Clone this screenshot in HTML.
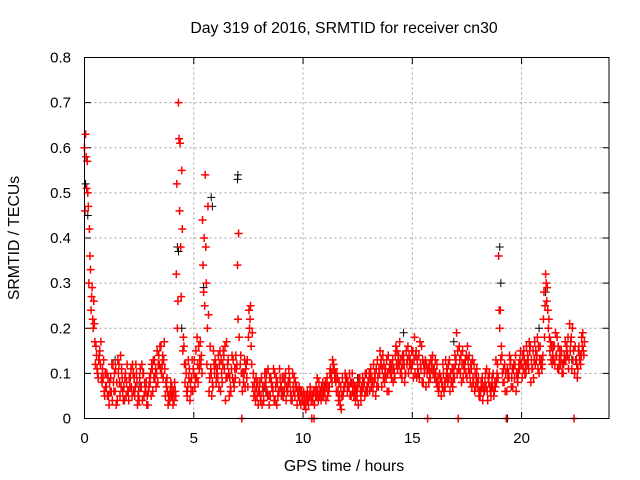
<!DOCTYPE html>
<html><head><meta charset="utf-8"><style>
html,body{margin:0;padding:0;background:#fff;}
svg{display:block;font-family:"Liberation Sans",sans-serif;}
</style></head><body>
<svg id="chart" width="640" height="480">
<rect width="640" height="480" fill="#fff"/>
<text x="344" y="33" font-size="15.8" text-anchor="middle">Day 319 of 2016, SRMTID for receiver cn30</text>
<text x="344" y="471" font-size="15.8" text-anchor="middle">GPS time / hours</text>
<text transform="translate(19,238) rotate(-90)" font-size="15.8" text-anchor="middle">SRMTID / TECUs</text>
<g id="grid"></g>
<g id="ticks"></g>
<g id="black"></g>
<g id="red"></g>
<rect x="84.5" y="57.5" width="524.5" height="361" fill="none" stroke="#000" stroke-width="1"/>
</svg>
<script>
const xTicks=[0,5,10,15,20];
const yTicks=[0,0.1,0.2,0.3,0.4,0.5,0.6,0.7,0.8];
const yTickLabels=["0","0.1","0.2","0.3","0.4","0.5","0.6","0.7","0.8"];
const binStep=0.1;
const redA=[.60,.51,.30,.24,.20,.12,.10,.15,.08,.06,
.07,.05,.09,.12,.06,.04,.08,.11,.07,.05,
.06,.09,.12,.05,.08,.04,.07,.10,.06,.03,
.08,.11,.13,.10,.14,.16,.09,.05,.06,.04,
.07,.04,.32,.70,.38,.15,.08,.05,.11,.09,
.10,.15,.08,.17,.44,.25,.12,.06,.10,.15,
.12,.09,.15,.08,.11,.17,.10,.06,.13,.09,
.34,.08,.00,.10,.12,.18,.25,.07,.06,.05,
.06,.09,.04,.08,.11,.05,.07,.10,.03,.06,
.07,.05,.10,.06,.08,.04,.09,.07,.05,.03,
.04,.03,.06,.05,.00,.00,.07,.04,.06,.08,
.06,.09,.07,.10,.12,.08,.06,.03,.09,.07,
.09,.07,.05,.08,.04,.07,.09,.06,.08,.10,
.08,.11,.06,.09,.13,.10,.07,.12,.09,.14,
.10,.13,.09,.15,.12,.11,.14,.10,.16,.13,
.12,.18,.09,.14,.11,.08,.13,.00,.10,.12,
.11,.08,.06,.09,.12,.07,.10,.13,.08,.11,
.13,.00,.10,.15,.12,.09,.14,.11,.08,.07,
.07,.05,.09,.06,.11,.08,.05,.10,.07,.12,
.20,.14,.08,.00,.10,.13,.07,.12,.09,.11,
.12,.15,.10,.13,.16,.11,.17,.14,.10,.13,
.22,.32,.24,.15,.12,.16,.14,.11,.13,.10,
.17,.14,.21,.11,.00,.13,.15,.12,.19];
const redB=[.46,.57,.42,.27,.26,.16,.09,.12,.11,.05,
.10,.03,.06,.08,.11,.13,.05,.09,.04,.08,
.04,.11,.10,.07,.03,.09,.12,.05,.08,.06,
.10,.06,.09,.15,.12,.10,.13,.08,.03,.06,
.05,.08,.52,.62,.27,.18,.12,.07,.04,.13,
.13,.09,.16,.12,.34,.54,.20,.09,.05,.12,
.08,.14,.06,.12,.16,.09,.05,.11,.08,.14,
.22,.12,.06,.13,.09,.24,.16,.10,.04,.08,
.08,.03,.07,.10,.05,.09,.06,.04,.08,.11,
.05,.09,.04,.08,.06,.10,.05,.03,.07,.06,
.06,.02,.04,.07,.05,.03,.05,.08,.04,.06,
.08,.05,.10,.08,.11,.06,.04,.07,.05,.10,
.06,.10,.08,.05,.07,.03,.06,.09,.05,.07,
.10,.07,.12,.05,.09,.15,.11,.08,.13,.06,
.12,.08,.14,.11,.17,.09,.12,.15,.10,.12,
.15,.10,.13,.09,.16,.12,.07,.11,.09,.14,
.09,.12,.07,.05,.10,.13,.08,.06,.11,.09,
.19,.11,.14,.09,.13,.16,.10,.07,.12,.09,
.09,.06,.04,.08,.06,.10,.07,.05,.13,.09,
.24,.10,.12,.06,.09,.07,.11,.14,.08,.13,
.09,.13,.16,.11,.08,.15,.12,.18,.13,.11,
.28,.30,.20,.17,.14,.12,.18,.13,.15,.12,
.13,.18,.15,.20,.10,.12,.16,.14,.15];
const redC=[.63,.50,.36,.29,.21,.14,.13,.17,.09,.10,
.05,.08,.12,.06,.03,.10,.14,.06,.09,.12,
.09,.07,.06,.12,.05,.11,.04,.08,.03,.07,
.05,.13,.11,.08,.16,.12,.17,.07,.05,.08,
.03,.06,.20,.46,.55,.16,.10,.13,.08,.06,
.07,.18,.11,.14,.28,.38,.47,.16,.08,.10,
.10,.07,.13,.15,.04,.12,.09,.14,.07,.11,
.41,.14,.10,.07,.13,.20,.12,.05,.09,.03,
.04,.07,.10,.06,.03,.08,.11,.07,.05,.09,
.09,.06,.07,.11,.04,.07,.08,.06,.04,.05,
.03,.05,.03,.06,.04,.06,.09,.05,.07,.05,
.04,.07,.11,.13,.09,.10,.08,.02,.06,.08,
.08,.05,.10,.07,.06,.09,.04,.08,.10,.06,
.06,.09,.08,.11,.07,.12,.14,.10,.06,.11,
.09,.11,.16,.13,.10,.14,.08,.12,.14,.11,
.09,.14,.11,.17,.08,.10,.12,.08,.13,.10,
.13,.07,.10,.08,.06,.09,.12,.10,.07,.14,
.10,.16,.08,.12,.10,.13,.08,.13,.06,.11,
.05,.08,.07,.10,.04,.07,.09,.06,.08,.36,
.13,.08,.06,.11,.14,.09,.12,.06,.10,.15,
.14,.10,.12,.17,.13,.09,.15,.11,.16,.12,
.18,.26,.22,.13,.16,.19,.11,.15,.10,.14,
.15,.11,.17,.13,.16,.09,.13,.18,.14];
const redD=[.58,.47,.33,.22,.17,.11,.14,.09,.13,.07,
.09,.06,.04,.10,.08,.12,.07,.04,.10,.06,
.07,.05,.09,.10,.06,.07,.10,.06,.05,.09,
.12,.09,.07,.12,.11,.14,.11,.09,.04,.05,
.06,.05,.26,.61,.42,.12,.06,.09,.06,.11,
.09,.12,.13,.10,.40,.30,.23,.11,.07,.13,
.11,.12,.10,.14,.09,.13,.07,.09,.11,.12,
.18,.10,.08,.11,.07,.22,.19,.08,.07,.06,
.05,.06,.08,.05,.09,.07,.04,.09,.06,.07,
.06,.08,.06,.09,.05,.06,.07,.05,.06,.04,
.05,.04,.05,.04,.06,.05,.06,.06,.05,.07,
.07,.06,.09,.11,.10,.09,.05,.05,.07,.09,
.07,.08,.06,.06,.05,.08,.07,.07,.06,.08,
.09,.08,.10,.07,.11,.13,.09,.11,.10,.12,
.11,.10,.12,.14,.13,.12,.10,.13,.12,.15,
.13,.15,.10,.12,.13,.11,.10,.12,.11,.11,
.10,.09,.09,.07,.08,.11,.09,.08,.09,.12,
.15,.13,.12,.11,.14,.11,.12,.09,.10,.08,
.06,.07,.06,.07,.09,.06,.07,.08,.10,.24,
.16,.11,.10,.09,.12,.11,.09,.10,.12,.12,
.11,.12,.14,.15,.11,.13,.13,.16,.12,.14,
.25,.29,.18,.16,.13,.14,.16,.12,.12,.13,
.16,.13,.18,.15,.13,.11,.14,.16,.17];
const blackT=[0.05,0.15,4.25,4.3,4.45,5.45,5.8,5.85,7.0,7.02,7.05,2.5,9.0,12.5,14.6,16.9,19.0,19.05,19.35,20.8,21.1,22.3,1.4,8.3];
const blackV=[0.52,0.45,0.38,0.37,0.20,0.29,0.49,0.47,0.53,0.54,0.41,0.07,0.05,0.09,0.19,0.17,0.38,0.30,0.00,0.20,0.28,0.13,0.13,0.06];
const X=t=>84.5+t*(524.5/24);
const Y=v=>418.5-v*(361/0.8);
const NS="http://www.w3.org/2000/svg";
function mk(tag,attrs,parent){const e=document.createElementNS(NS,tag);for(const k in attrs)e.setAttribute(k,attrs[k]);parent.appendChild(e);return e;}
const grid=document.getElementById('grid'),ticks=document.getElementById('ticks');
xTicks.forEach(t=>{
  const x=X(t);
  if(t>0){const g=mk('line',{x1:x,x2:x,y1:57.5,y2:418.5,stroke:'#a0a0a0','stroke-dasharray':'2,3'},grid);
  
  }
  mk('line',{x1:x,x2:x,y1:418.5,y2:412,stroke:'#000'},ticks);
  mk('line',{x1:x,x2:x,y1:57.5,y2:64,stroke:'#000'},ticks);
  const l=mk('text',{x:x,y:443,'font-size':15,'text-anchor':'middle'},ticks);l.textContent=t;
  
  
});
yTicks.forEach((v,i)=>{
  const y=Y(v);
  if(i>0&&i<yTicks.length-1){const g=mk('line',{x1:84.5,x2:609,y1:y,y2:y,stroke:'#a0a0a0','stroke-dasharray':'2,3'},grid);
  
  }
  mk('line',{x1:84.5,x2:91,y1:y,y2:y,stroke:'#000'},ticks);
  mk('line',{x1:609,x2:602.5,y1:y,y2:y,stroke:'#000'},ticks);
  const l=mk('text',{x:71,y:y+5,'font-size':15,'text-anchor':'end'},ticks);l.textContent=yTickLabels[i];
  
  
});
function plus(t,v){const x=X(t),y=Y(v);return `M${x-4},${y}h8M${x},${y-4}v8`;}
let d='';
[[redA,0],[redB,0.025],[redC,0.05],[redD,0.075]].forEach(([arr,off])=>arr.forEach((v,i)=>{d+=plus(i*binStep+off,v);}));
const rp=mk('path',{d:d,stroke:'#ff0000','stroke-width':1.5,fill:'none'},document.getElementById('red'));


let db='';
blackT.forEach((t,i)=>{db+=plus(t,blackV[i]);});
const bp=mk('path',{d:db,stroke:'#000','stroke-width':1,fill:'none'},document.getElementById('black'));


</script>
</body></html>
